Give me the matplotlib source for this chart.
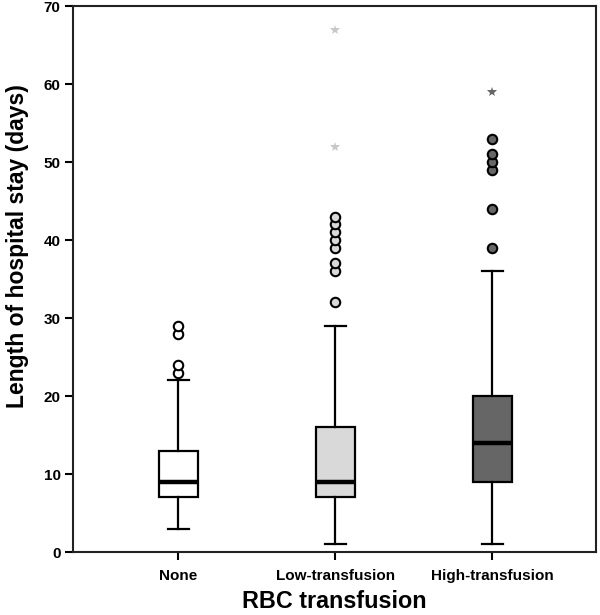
import matplotlib
matplotlib.use("Agg")
import matplotlib.pyplot as plt

categories = ["None", "Low-transfusion", "High-transfusion"]
whisker_low = [3, 1, 1]
q1 = [7, 7, 9]
median = [9, 9, 14]
q3 = [13, 16, 20]
whisker_high = [22, 29, 36]
outliers = [
    [23, 24, 28, 29],
    [32, 36, 37, 39, 40, 41, 42, 43],
    [39, 44, 49, 50, 51, 53],
]
extremes = [[], [52, 67], [59]]
fills = ["#ffffff", "#d9d9d9", "#666666"]
star_colors = ["#ffffff", "#c8c8c8", "#666666"]
y_ticks = [0, 10, 20, 30, 40, 50, 60, 70]

plt.rcParams['font.family'] = ['Liberation Sans', 'DejaVu Sans']

fig = plt.figure(figsize=(6, 6.15), dpi=100)
ax = fig.add_axes([0.122, 0.1024, 0.8713, 0.8876])

positions = [1, 2, 3]
for i in range(3):
    stats = [dict(med=median[i], q1=q1[i], q3=q3[i], whislo=whisker_low[i],
                  whishi=whisker_high[i], fliers=outliers[i], label=categories[i])]
    ax.bxp(stats, positions=[positions[i]], widths=0.25, patch_artist=True,
           showfliers=True, capwidths=0.13,
           boxprops=dict(facecolor=fills[i], edgecolor='black', linewidth=1.6),
           medianprops=dict(color='black', linewidth=3.2),
           whiskerprops=dict(color='black', linewidth=1.6),
           capprops=dict(color='black', linewidth=1.6),
           flierprops=dict(marker='o', markerfacecolor=fills[i],
                           markeredgecolor='black', markersize=6.8,
                           markeredgewidth=1.5, linestyle='none'))
    if extremes[i]:
        ax.plot([positions[i]] * len(extremes[i]), extremes[i], linestyle='none',
                marker='*', markersize=7.5, color=star_colors[i],
                markeredgewidth=0)

ax.set_xlim(0.33, 3.66)
ax.set_ylim(0, 70)
ax.set_yticks(y_ticks)
ax.set_yticklabels([str(v) for v in y_ticks], fontsize=11, fontweight='bold')
ax.set_xticks(positions)
ax.set_xticklabels(categories, fontsize=11, fontweight='bold')
ax.tick_params(axis='both', direction='out', length=6, width=1.5, color='black')
ax.tick_params(axis='x', pad=6)
ax.tick_params(axis='y', pad=3)
for s in ax.spines.values():
    s.set_linewidth(1.5)
    s.set_color('#222222')

ax.set_ylabel("Length of hospital stay (days)", fontsize=16.5, fontweight='bold')
ax.yaxis.set_label_coords(-0.085, 0.56)
ax.set_xlabel("RBC transfusion", fontsize=16.8, fontweight='bold', labelpad=5)

fig.savefig("out.png", dpi=100)
